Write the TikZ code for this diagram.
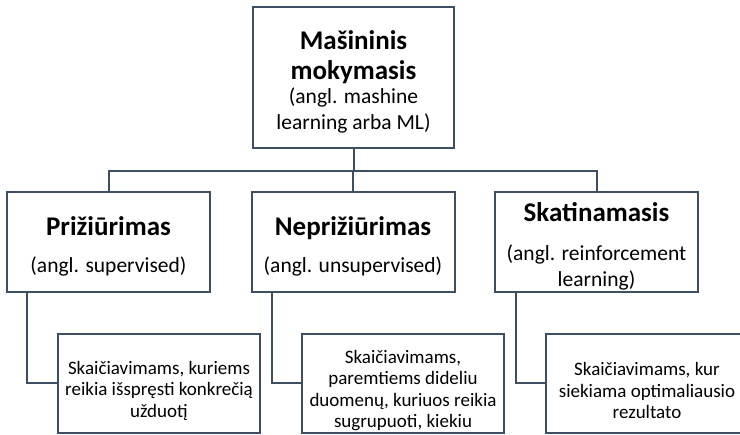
\documentclass[tikz,border=0pt]{standalone}
\usepackage{fontspec}
\setmainfont{Carlito}
\definecolor{lc}{RGB}{62,78,99}
\newcommand{\ttl}[1]{{\fontsize{27}{26}\selectfont\bfseries #1}}
\newcommand{\sub}[1]{{\fontsize{21.5}{26}\selectfont #1}}
\begin{document}
\begin{tikzpicture}[x=1pt,y=-1pt,
  box/.style={draw=lc, line width=2pt, fill=white},
  topbox/.style={box, minimum width=201pt, minimum height=141pt},
  midbox/.style={box, minimum width=203pt, minimum height=100pt},
  lowbox/.style={box, minimum width=202pt, minimum height=99pt},
  txt/.style={align=center, inner sep=0pt, yshift=-4pt, font=\fontsize{21.5}{26}\selectfont},
  lowtxt/.style={txt, yshift=-3pt, font=\fontsize{19}{21.5}\selectfont},
  conn/.style={draw=lc, line width=2pt}]
\useasboundingbox (0,0) rectangle (740,435);
\node[topbox] (top) at (353.5,77.5) {};
\node[midbox] (pa) at (108.5,242) {};
\node[midbox] (pb) at (353,242) {};
\node[midbox] (pc) at (596.5,242) {};
\node[lowbox] (ba) at (159,383.5) {};
\node[lowbox] (bb) at (403,383.5) {};
\node[lowbox] (bc) at (647,383.5) {};
\node[txt] (topT) at (top.center) {\ttl{Mašininis}\\[4pt]\ttl{mokymasis}\\[-2pt]\sub{(angl. mashine}\\\sub{learning arba ML)}};
\node[txt] (paT) at (pa.center) {\ttl{Prižiūrimas}\\[11pt]\sub{(angl. supervised)}};
\node[txt] (pbT) at (pb.center) {\ttl{Neprižiūrimas}\\[11pt]\sub{(angl. unsupervised)}};
\node[txt] (pcT) at (pc.center) {\ttl{Skatinamasis}\\[13pt]\sub{(angl. reinforcement}\\\sub{learning)}};
\node[lowtxt] (baT) at (ba.center) {Skaičiavimams, kuriems\\reikia išspręsti konkrečią\\užduotį};
\node[lowtxt] (bbT) at (bb.center) {Skaičiavimams,\\paremtiems dideliu\\duomenų, kuriuos reikia\\sugrupuoti, kiekiu};
\node[lowtxt] (bcT) at (bc.center) {Skaičiavimams, kur\\siekiama optimaliausio\\rezultato};
\coordinate (bus) at (353,171);
\draw[conn] (top.south) -- (top.south |- bus);
\draw[conn] (pa.north) -- (pa.north |- bus) -| (pc.north);
\draw[conn] (pb.north) -- (pb.north |- bus);
\draw[conn] ([xshift=21pt]pa.south west) |- (ba.west);
\draw[conn] ([xshift=21pt]pb.south west) |- (bb.west);
\draw[conn] ([xshift=22pt]pc.south west) |- (bc.west);
\end{tikzpicture}
\end{document}
